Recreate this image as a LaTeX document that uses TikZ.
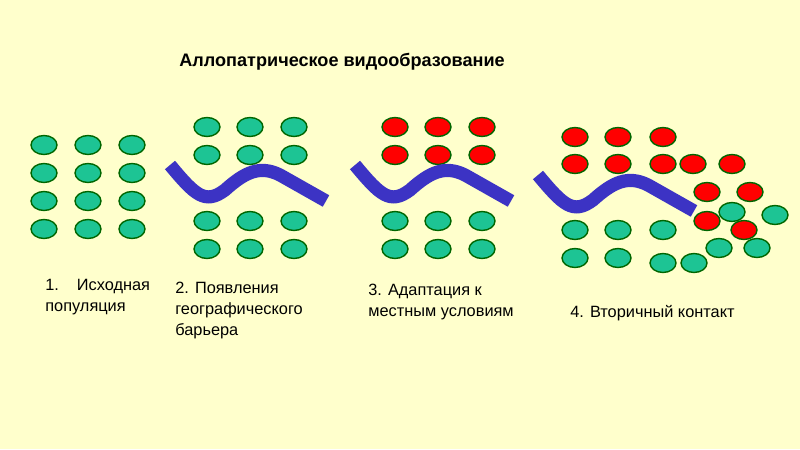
\documentclass[tikz,border=0pt]{standalone}
\usepackage{fontspec}
\setmainfont{Liberation Sans}
\begin{document}
\begin{tikzpicture}[x=0.02cm,y=-0.02cm,
  gdot/.style={ellipse,draw=green!40!black,line width=0.8pt,fill=gcol,minimum width=0.52cm,minimum height=0.38cm,inner sep=0pt},
  rdot/.style={gdot,fill=red},
  barrier/.style={draw=bcol,line width=7.5pt},
  lbl/.style={anchor=north west,align=left,font=\fontsize{9.3}{12}\selectfont,inner sep=0pt}]
\definecolor{bg}{HTML}{FFFFCC}
\definecolor{gcol}{HTML}{1DC494}
\definecolor{bcol}{HTML}{3C33C4}
\usetikzlibrary{shapes.geometric}
\fill[bg] (0,0) rectangle (800,449);
\node[font=\bfseries\fontsize{10.3}{12}\selectfont] (title) at (342,62) {Аллопатрическое видообразование};
% panel 1
\foreach \x in {44,88,132}\foreach \y in {145,173,201,229}\node[gdot] at (\x,\y) {};
% panel 2
\foreach \x in {207,250,294}\foreach \y in {127,155,221,249}\node[gdot] at (\x,\y) {};
\draw[barrier] (170,165) .. controls (195,195) and (205,205) .. (225,190) .. controls (245,172) and (260,165) .. (280,175) -- (326,201);
% panel 3
\foreach \x in {395,438,482}{\foreach \y in {127,155}\node[rdot] at (\x,\y) {};
  \foreach \y in {221,249}\node[gdot] at (\x,\y) {};}
\draw[barrier] (355,165) .. controls (380,195) and (390,205) .. (410,190) .. controls (430,172) and (445,165) .. (465,175) -- (511,201);
% panel 4
\foreach \p in {(575,137),(618,137),(663,137),(575,164),(618,164),(663,164),(693,164),(732,164),(707,192),(750,192),(707,221),(744,230)}\node[rdot] at \p {};
\foreach \p in {(732,212),(775,215),(575,230),(618,230),(663,230),(719,248),(757,248),(575,258),(618,258),(663,263),(694,263)}\node[gdot] at \p {};
\draw[barrier] (538,175) .. controls (563,205) and (573,215) .. (593,200) .. controls (613,182) and (628,175) .. (648,185) -- (694,211);
% labels
\node[lbl] (l1) at (45,279) {1.\hspace{1.1em}Исходная\\популяция};
\node[lbl] (l2) at (175,282) {2. Появления\\географического\\барьера};
\node[lbl] (l3) at (368,284) {3. Адаптация к\\местным условиям};
\node[lbl] (l4) at (570,305) {4. Вторичный контакт};
\end{tikzpicture}
\end{document}
